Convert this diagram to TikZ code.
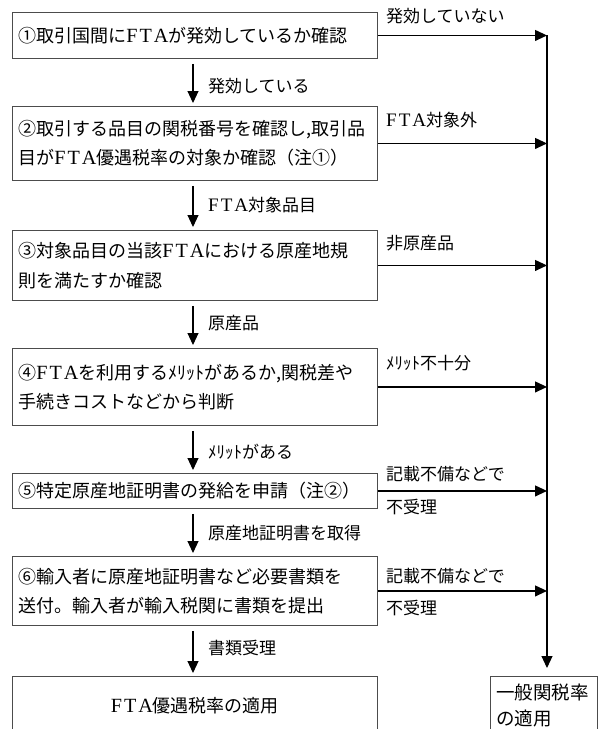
\documentclass[tikz,border=0pt]{standalone}
\usepackage{fontspec}
\setmainfont{Noto Sans CJK JP}
\newfontfamily\latserif[Scale=1.12]{Liberation Serif}
\newcommand{\fta}{{\latserif F\kern2pt T\kern2pt A}}
\usetikzlibrary{arrows.meta}
\begin{document}
\begin{tikzpicture}[x=1pt,y=-1pt,
  box/.style={draw=black!70, line width=0.9pt, anchor=north west, inner xsep=6pt,
    text width=353pt, align=left, minimum width=365pt,
    font=\fontsize{18}{29.5}\selectfont},
  lab/.style={anchor=west, inner sep=0pt, font=\fontsize{17}{20}\selectfont},
  arr/.style={-{Triangle[length=12pt,width=11pt]}, line width=1.1pt}]
\useasboundingbox (0,0) rectangle (598,729);
\clip (0,0) rectangle (598,729);
% main boxes
\node[box, minimum height=46pt] (b1) at (12,12) {①取引国間に\fta が発効しているか確認};
\node[box, minimum height=74pt] (b2) at (12,106) {②取引する品目の関税番号を確認し,取引品\\目が\fta 優遇税率の対象か確認（注①）};
\node[box, minimum height=70pt] (b3) at (12,230) {③対象品目の当該\fta における原産地規\\則を満たすか確認};
\node[box, minimum height=77pt] (b4) at (12,348) {④\fta を利用するﾒﾘｯﾄがあるか,関税差や\\手続きコストなどから判断};
\node[box, minimum height=35pt] (b5) at (12,473) {⑤特定原産地証明書の発給を申請（注②）};
\node[box, minimum height=69pt] (b6) at (12,556) {⑥輸入者に原産地証明書など必要書類を\\送付。輸入者が輸入税関に書類を提出};
\node[box, minimum height=58pt, align=center] (b7) at (12,676) {\fta 優遇税率の適用};
\node[box, minimum height=58pt, minimum width=107pt, text width=95pt, font=\fontsize{18.5}{26}\selectfont] (rb) at (490,676) {一般関税率\\の適用};
% vertical collector line
\coordinate (ax) at (193,0);
\coordinate (vtop) at (547,35);
\draw[arr, shorten >=8pt] (vtop) -- (vtop |- rb.north);
% right arrows
\foreach \b in {b1,b2,b3,b4,b5,b6}
  \draw[arr] (\b.east) -- (\b.east -| vtop);
% down arrows
\draw[arr, shorten <=5pt, shorten >=3pt] (b1.south -| ax) -- (b2.north -| ax);
\draw[arr, shorten <=5pt, shorten >=3pt] (b2.south -| ax) -- (b3.north -| ax);
\draw[arr, shorten <=5pt, shorten >=3pt] (b3.south -| ax) -- (b4.north -| ax);
\draw[arr, shorten <=5pt, shorten >=3pt] (b4.south -| ax) -- (b5.north -| ax);
\draw[arr, shorten <=5pt, shorten >=3pt] (b5.south -| ax) -- (b6.north -| ax);
\draw[arr, shorten <=5pt, shorten >=3pt] (b6.south -| ax) -- (b7.north -| ax);
% down labels
\node[lab] (d1) at (208,86) {発効している};
\node[lab] (d2) at (208,205) {\fta 対象品目};
\node[lab] (d3) at (208,323) {原産品};
\node[lab] (d4) at (208,452) {ﾒﾘｯﾄがある};
\node[lab] (d5) at (208,533) {原産地証明書を取得};
\node[lab] (d6) at (208,648) {書類受理};
% right labels
\node[lab] (r1) at (386,16) {発効していない};
\node[lab] (r2) at (386,120) {\fta 対象外};
\node[lab] (r3) at (386,243) {非原産品};
\node[lab] (r4) at (386,363) {ﾒﾘｯﾄ不十分};
\node[lab] (r5a) at (386,474) {記載不備などで};
\node[lab] (r5b) at (386,507) {不受理};
\node[lab] (r6a) at (386,576) {記載不備などで};
\node[lab] (r6b) at (386,608) {不受理};
\end{tikzpicture}
\end{document}
